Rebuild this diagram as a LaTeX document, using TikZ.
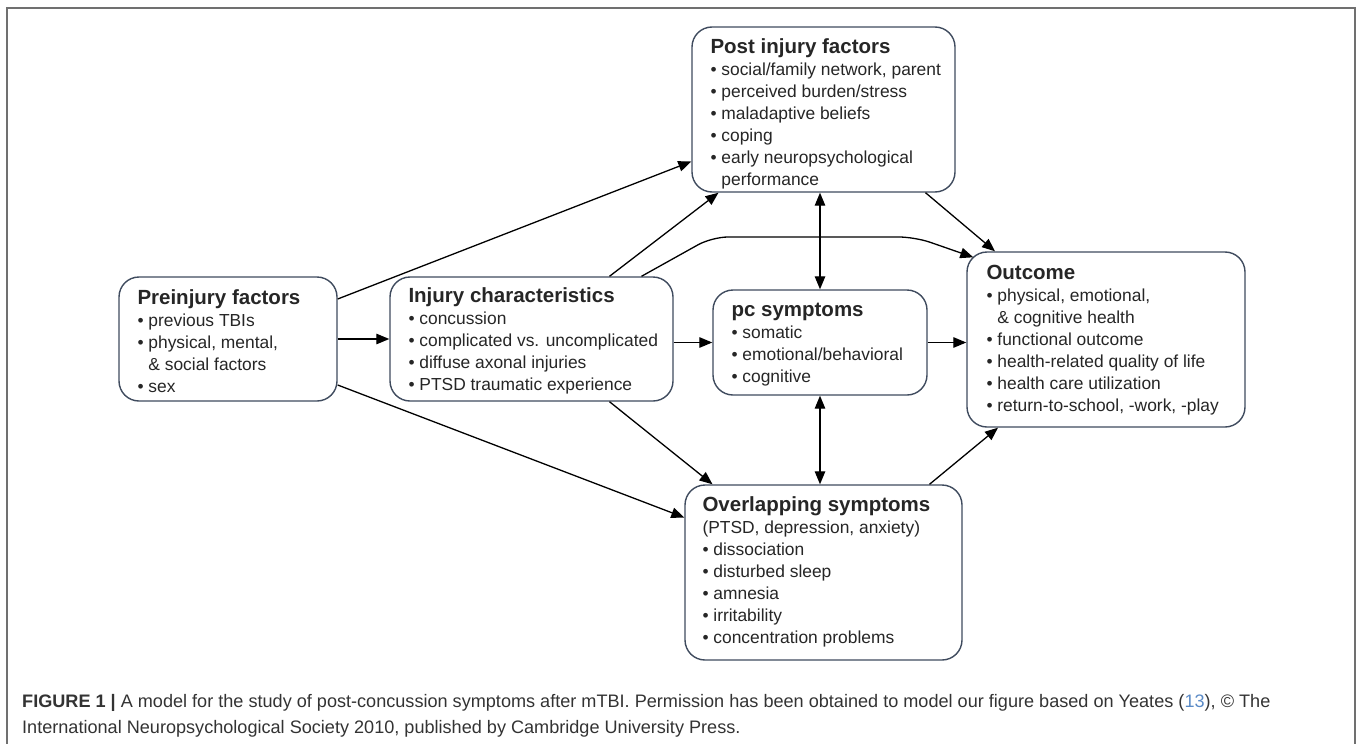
\documentclass[tikz,border=0pt]{standalone}
\usepackage{fontspec}
\setmainfont{Liberation Sans}
\usetikzlibrary{arrows.meta}
\definecolor{boxc}{HTML}{3F4B5E}
\definecolor{txtc}{HTML}{262626}
\definecolor{framec}{HTML}{707070}
\definecolor{capc}{HTML}{333333}
\definecolor{refc}{HTML}{5A8AC6}
\newcommand\ttl[1]{{\fontsize{20.5}{22}\selectfont\bfseries #1}}
\newcommand\ind{\hphantom{•}\ }
\begin{document}
\begin{tikzpicture}[x=1pt,y=-1pt,
  box/.style={draw=boxc, line width=1.4pt, rounded corners=20pt, fill=white, inner sep=0pt},
  txt/.style={anchor=west, align=left, inner sep=0pt, text=txtc,
    font=\fontsize{17.4}{22}\selectfont},
  arr/.style={line width=1.3pt, -{Triangle[length=13pt,width=10.5pt]}},
  darr/.style={line width=1.3pt, {Triangle[length=13pt,width=10.5pt]}-{Triangle[length=13pt,width=10.5pt]}}]
\useasboundingbox (0,0) rectangle (1357,744);
\draw[framec, line width=1.5pt] (7,744) -- (7,8) -- (1355,8) -- (1355,744);

\node[box, minimum width=218pt, minimum height=124pt] (pre) at (228,339) {};
\node[txt] (pret) at ([xshift=19pt,yshift=-2pt]pre.west)
  {\ttl{Preinjury factors}\\• previous TBIs\\• physical, mental,\\\ind\& social factors\\• sex};
\node[box, minimum width=283pt, minimum height=124pt] (inj) at (531.5,339) {};
\node[txt] (injt) at ([xshift=19pt,yshift=-2pt]inj.west)
  {\ttl{Injury characteristics}\\• concussion\\• complicated vs. uncomplicated\\• diffuse axonal injuries\\• PTSD traumatic experience};
\node[box, minimum width=214pt, minimum height=105pt] (pc) at (820,342.5) {};
\node[txt] (pct) at ([xshift=19pt,yshift=-2pt]pc.west)
  {\ttl{pc symptoms}\\• somatic\\• emotional/behavioral\\• cognitive};
\node[box, minimum width=263pt, minimum height=165pt] (post) at (823.5,109.5) {};
\node[txt] (postt) at ([xshift=19pt,yshift=-4pt]post.west)
  {\ttl{Post injury factors}\\• social/family network, parent\\• perceived burden/stress\\• maladaptive beliefs\\• coping\\• early neuropsychological\\\ind performance};
\node[box, minimum width=278pt, minimum height=175pt] (out) at (1106,339.5) {};
\node[txt] (outt) at ([xshift=20pt,yshift=-1pt]out.west)
  {\ttl{Outcome}\\• physical, emotional,\\\ind\& cognitive health\\• functional outcome\\• health-related quality of life\\• health care utilization\\• return-to-school, -work, -play};
\node[box, minimum width=277pt, minimum height=175pt] (ovl) at (823.5,572.5) {};
\node[txt] (ovlt) at ([xshift=18pt,yshift=1pt]ovl.west)
  {\ttl{Overlapping symptoms}\\(PTSD, depression, anxiety)\\• dissociation\\• disturbed sleep\\• amnesia\\• irritability\\• concentration problems};

\draw[arr] (pre.east) -- (pre.east -| inj.west);
\draw[arr] ([yshift=40pt]pre.east) -- ([yshift=-52pt]post.west);
\draw[arr] ([yshift=-46pt]pre.east) -- ([yshift=55pt]ovl.west);
\draw[arr] ([xshift=78pt]inj.north) -- ([xshift=-105pt]post.south);
\draw[arr, rounded corners=16pt] ([xshift=110pt]inj.north) -- (712,237) -- (915,237) -- ([xshift=7pt,yshift=-6pt]out.north west);
\draw[arr] (pc.west -| inj.east) -- (pc.west);
\draw[arr] ([xshift=78pt]inj.south) -- ([xshift=-111pt]ovl.north);
\draw[darr] (pc.north) -- (pc.north |- post.south);
\draw[darr] (pc.south) -- (pc.south |- ovl.north);
\draw[arr] ([xshift=102pt]post.south) -- ([xshift=-111pt]out.north);
\draw[arr] (pc.east) -- (pc.east -| out.west);
\draw[arr] ([xshift=106pt]ovl.north) -- ([xshift=-108pt]out.south);

\node[anchor=base west, align=left, inner sep=0pt, text=capc,
  font=\fontsize{18.1}{26}\selectfont] (cap) at (22,733)
  {\textbf{FIGURE 1 |} A model for the study of post-concussion symptoms after mTBI. Permission has been obtained to model our figure based on Yeates ({\color{refc}13}), © The\\International Neuropsychological Society 2010, published by Cambridge University Press.};
\end{tikzpicture}
\end{document}
